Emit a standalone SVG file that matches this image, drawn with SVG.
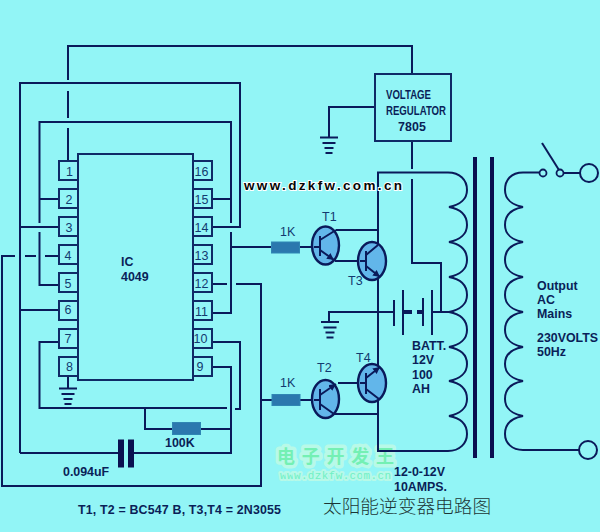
<svg xmlns="http://www.w3.org/2000/svg" width="600" height="532" viewBox="0 0 600 532">
<style>
text{font-family:"Liberation Sans",Arial,sans-serif;fill:#0c2460}
.b{font-weight:bold;font-size:12.4px;fill:#0a1f58}
.pin{font-size:12.5px;text-anchor:middle;fill:#123a70}
.lbl{font-size:12.5px;fill:#123a70}
.w{fill:none;stroke:#0a1a5a;stroke-width:2}
.box{fill:none;stroke:#0f2a66;stroke-width:2}
.res{fill:#2b78ae;stroke:#2f86b4;stroke-width:1}
.q{fill:#62b6ea;stroke:#0a1a5a;stroke-width:2.400}
.heavy{fill:#0a1050;stroke:none}
</style>
<defs>
<marker id="arr" markerWidth="8" markerHeight="8" refX="7" refY="3.500" orient="auto" markerUnits="userSpaceOnUse"><path d="M0 0L7 3.500L0 7z" fill="#0a1a5a"/></marker>
<g id="gnd"><path class="w" d="M-9 0H9M-6.500 5.500H6.500M-4.500 10.500H4.500M-3.500 15.500H3.500"/></g>
</defs>
<rect width="600" height="532" fill="#92f5f6"/>

<g id="watermark">
<text x="277" y="463" textLength="117" style="font-family:'Noto Sans CJK SC',sans-serif;font-size:18px;font-weight:bold;fill:#74f0b4;stroke:#b8f9e8;stroke-width:7px;stroke-linejoin:round;paint-order:stroke">电子开发王</text>
<text x="280" y="479" textLength="111" style="font-family:'Liberation Mono',monospace;font-size:11px;fill:#70f0c4;stroke:#b8f9e8;stroke-width:4px;stroke-linejoin:round;paint-order:stroke">www.dzkfw.com.cn</text>
</g>

<g id="connectors">
<path class="w" d="M412 74V46H68V80M68 91V118M68 128V161"/>
<path class="w" d="M20 453V83H240V227H212"/>
<path class="w" d="M39.500 223V122H231V223M231 232V313H212"/>
<path class="w" d="M59 199H39.500M212 199H231M59 227H20M59 310H20"/>
<path class="w" d="M39.500 232V285H59"/>
<path class="w" d="M59 256H45M36 256H25M15 256H2V486H261V284H236M227 284H212"/>
<path class="w" d="M231 247H271M300 247H314"/>
<path class="w" d="M212 342H240V409H235"/>
<path class="w" d="M59 342H39.500V408H227"/>
<path class="w" d="M212 367H231V453H134"/>
<path class="w" d="M145 408V429H172M200 429H231"/>
<path class="w" d="M20 453H118"/>
<path class="w" d="M68 376V388"/>
<path class="w" d="M261 400H272M300 400H314"/>
<path class="w" d="M375 107H329V137"/>
<path class="w" d="M412 141V169M412 179V263H441V312"/>
<path class="w" d="M448 172.500H378V451H448"/>
<path class="w" d="M336 230H378M335 261H360M338 383H360M334 414H378"/>
<path class="w" d="M329 322V312H394M432 312H449"/>
<path class="w" d="M523 172.500H539M564 173H580M523 450H579"/>
<path class="w" d="M542 143L559 170"/>
</g>

<g id="ic4049">
<rect class="box" x="78" y="154" width="115" height="226"/>
<text class="b" x="121" y="266">IC</text>
<text class="b" x="121" y="281">4049</text>
</g>
<g id="pins-left">
<rect class="box" x="59" y="161" width="19" height="19"/><text class="pin" x="69.500" y="176">1</text>
<rect class="box" x="59" y="189" width="19" height="19"/><text class="pin" x="69" y="204">2</text>
<rect class="box" x="59" y="217" width="19" height="19"/><text class="pin" x="69" y="232">3</text>
<rect class="box" x="59" y="245" width="19" height="19"/><text class="pin" x="68" y="260">4</text>
<rect class="box" x="59" y="273" width="19" height="19"/><text class="pin" x="68" y="288">5</text>
<rect class="box" x="59" y="301" width="19" height="19"/><text class="pin" x="68" y="314">6</text>
<rect class="box" x="59" y="329" width="19" height="19"/><text class="pin" x="68" y="343">7</text>
<rect class="box" x="59" y="357" width="19" height="19"/><text class="pin" x="69.500" y="371">8</text>
</g>
<g id="pins-right">
<rect class="box" x="193" y="161" width="19" height="19"/><text class="pin" x="201.500" y="176">16</text>
<rect class="box" x="193" y="189" width="19" height="19"/><text class="pin" x="201.500" y="204">15</text>
<rect class="box" x="193" y="217" width="19" height="19"/><text class="pin" x="201.500" y="232">14</text>
<rect class="box" x="193" y="245" width="19" height="19"/><text class="pin" x="201.500" y="260">13</text>
<rect class="box" x="193" y="273" width="19" height="19"/><text class="pin" x="201.500" y="288">12</text>
<rect class="box" x="193" y="301" width="19" height="19"/><text class="pin" x="201.500" y="316">11</text>
<rect class="box" x="193" y="329" width="19" height="19"/><text class="pin" x="200.500" y="343">10</text>
<rect class="box" x="193" y="357" width="19" height="19"/><text class="pin" x="200" y="371">9</text>
</g>
<g id="gnd-ic"><use href="#gnd" x="68" y="388.500"/></g>
<g id="gnd-reg"><use href="#gnd" x="329" y="137.500"/></g>
<g id="gnd-batt"><use href="#gnd" x="330" y="322"/></g>

<g id="regulator">
<rect class="box" x="375" y="74" width="76" height="67"/>
<text class="b" x="386" y="99" textLength="45" lengthAdjust="spacingAndGlyphs">VOLTAGE</text>
<text class="b" x="386" y="115" textLength="60" lengthAdjust="spacingAndGlyphs">REGULATOR</text>
<text class="b" x="398" y="131" textLength="28">7805</text>
</g>

<g id="r1">
<rect class="res" x="271.500" y="242" width="28" height="11"/>
<text class="lbl" x="280" y="236">1K</text>
</g>
<g id="r2">
<rect class="res" x="272" y="394.500" width="28" height="11"/>
<text class="lbl" x="280" y="387">1K</text>
</g>
<g id="r100k">
<rect class="res" x="172.500" y="422.500" width="28" height="12"/>
<text class="b" x="165" y="447">100K</text>
</g>
<g id="cap">
<rect class="heavy" x="118" y="439.500" width="6" height="28"/>
<rect class="heavy" x="128" y="439.500" width="6" height="28"/>
<text class="b" x="63" y="476">0.094uF</text>
</g>

<g id="t1">
<ellipse class="q" cx="325.500" cy="245.500" rx="13.500" ry="19"/>
<path class="w" d="M320 236V256M314 247H320M320 240L336 230"/>
<path class="w" d="M320 250L334 260" marker-end="url(#arr)"/>
<text class="lbl" x="322" y="221">T1</text>
</g>
<g id="t3">
<ellipse class="q" cx="372" cy="261" rx="14" ry="19"/>
<path class="w" d="M366 251V271M360 261H366M366 255L378 245"/>
<path class="w" d="M366 266L380 277" marker-end="url(#arr)"/>
<text class="lbl" x="348" y="285">T3</text>
</g>
<g id="t2">
<ellipse class="q" cx="325.500" cy="399" rx="13.500" ry="19"/>
<path class="w" d="M320 389V410M314 400H320M320 404L334 414"/>
<path class="w" d="M320 395L336 384" marker-end="url(#arr)"/>
<text class="lbl" x="317" y="372">T2</text>
</g>
<g id="t4">
<ellipse class="q" cx="372" cy="383" rx="14" ry="19"/>
<path class="w" d="M366 373V394M360 383H366M366 389L379 399"/>
<path class="w" d="M366 378L380 367" marker-end="url(#arr)"/>
<text class="lbl" x="356" y="362">T4</text>
</g>

<g id="battery">
<path class="w" d="M394 300V326M403 290V335M423 298V326M432 290V335"/>
<path d="M403 312H412M417 312H423" stroke="#0a1a5a" stroke-width="4" fill="none"/>
<text class="b" x="412" y="350">BATT.</text>
<text class="b" x="412" y="364">12V</text>
<text class="b" x="412" y="379">100</text>
<text class="b" x="412" y="393">AH</text>
</g>

<g id="transformer">
<path class="w" d="M448 172.500C460 172.500 467 180 467 190C467 199 460 205 449 207C460 209 467 215 467 225C467 234 460 240 449 242C460 244 467 250 467 260C467 269 460 275 449 277C460 279 467 285 467 295C467 304 460 310 449 312C460 314 467 320 467 330C467 339 460 345 449 347C460 349 467 354 467 364C467 373 460 379 449 381C460 383 467 389 467 399C467 408 460 414 449 416C460 418 467 424 467 434C467 443 460 451 448 451"/>
<rect class="heavy" x="473" y="157" width="4" height="301"/>
<rect class="heavy" x="490" y="157" width="4" height="301"/>
<path class="w" d="M523 172.500C511 172.500 505 180 505 190C505 199 512 205 523 207C512 209 505 215 505 225C505 234 512 240 523 242C512 244 505 250 505 260C505 269 512 275 523 277C512 279 505 285 505 295C505 304 512 310 523 312C512 314 505 320 505 330C505 339 512 345 523 347C512 349 505 354 505 364C505 373 512 379 523 381C512 383 505 389 505 399C505 408 512 414 523 416C512 418 505 424 505 434C505 443 512 450 523 450"/>
<text class="b" x="394" y="476">12-0-12V</text>
<text class="b" x="394" y="491">10AMPS.</text>
</g>

<g id="output">
<circle cx="543" cy="173" r="3.500" fill="#92f5f6" stroke="#0a1a5a" stroke-width="1.800"/>
<circle cx="560" cy="173" r="3.500" fill="#92f5f6" stroke="#0a1a5a" stroke-width="1.800"/>
<circle cx="589" cy="173" r="9" fill="none" stroke="#0a1a5a" stroke-width="2"/>
<circle cx="588" cy="450" r="9" fill="none" stroke="#0a1a5a" stroke-width="2"/>
<text class="b" x="537" y="290">Output</text>
<text class="b" x="537" y="304">AC</text>
<text class="b" x="537" y="318">Mains</text>
<text class="b" x="537" y="342">230VOLTS</text>
<text class="b" x="537" y="356">50Hz</text>
</g>

<g id="notes">
<text style="font-weight:bold;font-size:13.500px;fill:#050505;stroke:#ffffff;stroke-width:2px;paint-order:stroke" x="244" y="190" textLength="158">www.dzkfw.com.cn</text>
<text class="b" x="78" y="514" textLength="203">T1, T2 = BC547 B, T3,T4 = 2N3055</text>
<text x="323" y="513" style="font-family:'Noto Sans CJK SC','Liberation Sans',sans-serif;font-size:18.700px;font-weight:300;fill:#1c3535">太阳能逆变器电路图</text>
</g>
</svg>
